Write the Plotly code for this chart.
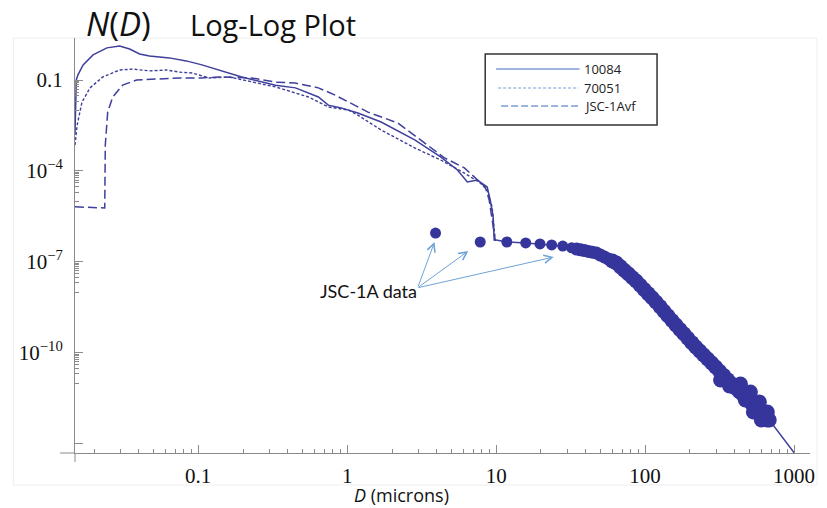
import numpy as np
import plotly.graph_objects as go

# ---- Model size distributions N(D), D in microns ----
d_10084 = [0.0149, 0.0152, 0.0156, 0.0169, 0.0197, 0.0244, 0.0297, 0.0347, 0.0404, 0.0471,
           0.0641, 0.0832, 0.106, 0.138, 0.196, 0.331, 0.45, 0.641, 0.747, 0.912,
           1.18, 1.69, 2.84, 4.24, 5.5, 6.41, 7.47, 8.71, 9.12, 9.55, 9.7, 10.0]
n_10084 = [1.6e-3, 0.1, 0.148, 0.316, 0.676, 1.15, 1.32, 1.05, 0.724, 0.617,
           0.537, 0.427, 0.316, 0.214, 0.126, 0.0676, 0.055, 0.0275, 0.0148, 0.012,
           0.0081, 0.0041, 1.05e-3, 2.9e-4, 1.07e-4, 4.3e-5, 5.0e-5, 2.95e-5, 1.1e-5, 3.0e-6, 5.2e-7, 5.2e-7]

d_70051 = [0.0149, 0.0154, 0.0166, 0.0188, 0.0229, 0.0297, 0.0363, 0.0471, 0.0612, 0.0747,
           0.0912, 0.118, 0.161, 0.229, 0.331, 0.55, 0.747, 1.02, 1.18, 1.69,
           2.84, 4.24, 6.12, 7.82, 8.71, 9.4, 9.7, 9.85, 10.0]
n_70051 = [7.1e-4, 3.2e-3, 0.0186, 0.055, 0.126, 0.214, 0.229, 0.2, 0.214, 0.182,
           0.17, 0.117, 0.126, 0.085, 0.059, 0.0275, 0.0129, 0.0102, 0.0069, 0.00224,
           5.75e-4, 2.29e-4, 8.5e-5, 3.98e-5, 2.34e-5, 6.5e-6, 8.9e-7, 5.2e-7, 5.2e-7]

d_jsc1avf = [0.0149, 0.0236, 0.0238, 0.0247, 0.0267, 0.0311, 0.0386, 0.0525, 0.0747, 0.106,
             0.138, 0.229, 0.331, 0.45, 0.641, 0.832, 1.13, 1.38, 2.19, 3.11,
             4.5, 6.12, 7.47, 8.45, 8.98, 9.4, 9.7, 9.85, 10.0]
n_jsc1avf = [6.5e-6, 6.0e-6, 7.1e-4, 8.7e-3, 0.0275, 0.0676, 0.1, 0.107, 0.117, 0.117,
             0.126, 0.117, 0.085, 0.079, 0.055, 0.0316, 0.0148, 0.0087, 0.0038, 1.05e-3,
             2.7e-4, 1.26e-4, 5.0e-5, 2.95e-5, 1.1e-5, 3.0e-6, 8.9e-7, 5.2e-7, 5.2e-7]

# ---- JSC-1A measured data ----
d_data = [3.92, 7.82, 11.8, 15.8, 19.7, 23.6, 28.0, 32.1, 34.7, 36.9,
          39.2, 41.7, 44.3, 47.1, 50.1, 53.3, 56.6, 60.3, 64.1, 68.1,
          72.4, 77.1, 81.9, 87.1, 92.7, 98.4, 104.7, 111.4, 118.3, 125.9,
          133.9, 142.2, 151.4, 161.1, 171.0, 182.0, 193.6, 205.6, 218.8, 232.8,
          247.2, 263.0, 279.9, 297.2, 316.2, 336.5, 357.3, 380.2, 404.6, 429.5,
          457.1, 486.4, 516.4, 549.5, 584.8, 620.9, 660.7,
          321.0, 369.0, 436.5, 471.0, 509.0, 533.0, 585.0, 603.0, 661.0, 681.0]
n_data = [8.9e-7, 4.5e-7, 4.5e-7, 4.2e-7, 3.9e-7, 3.6e-7, 3.3e-7, 2.9e-7, 2.64e-7, 2.49e-7,
          2.34e-7, 2.20e-7, 2.07e-7, 1.95e-7, 1.67e-7, 1.44e-7, 1.24e-7, 1.06e-7, 9.12e-8, 6.95e-8,
          5.28e-8, 4.02e-8, 3.05e-8, 2.32e-8, 1.69e-8, 1.23e-8, 8.91e-9, 6.49e-9, 4.71e-9, 3.32e-9,
          2.34e-9, 1.65e-9, 1.16e-9, 8.20e-10, 5.87e-10, 4.21e-10, 3.01e-10, 2.15e-10, 1.54e-10, 1.14e-10,
          8.39e-11, 6.19e-11, 4.57e-11, 3.37e-11, 2.45e-11, 1.78e-11, 1.29e-11, 9.42e-12, 6.84e-12, 5.13e-12,
          3.84e-12, 2.88e-12, 2.15e-12, 1.61e-12, 1.16e-12, 8.34e-13, 6.01e-13,
          1.26e-11, 7.96e-12, 9.27e-12, 2.75e-12, 5.05e-12, 1.10e-12, 2.36e-12, 6.01e-13, 1.10e-12, 6.01e-13]

# ends of the joined data curve
d_join = [10.0, 1000.0]
n_join = [5.2e-7, 5.0e-14]

x_ticks = [0.1, 1, 10, 100, 1000]
x_ticktext = ["0.1", "1", "10", "100", "1000"]
y_ticks = [1e-1, 1e-4, 1e-7, 1e-10, 1e-13]
y_ticktext = ["0.1", "10<sup>\u22124</sup>", "10<sup>\u22127</sup>", "10<sup>\u221210</sup>", ""]

LINE = "#3f3f9c"
DOT = "#35359c"
AXIS = "#8a8a8a"
LEG = "#7d9cd4"
ARROW = "#6fa3d8"
SANS = "Open Sans"
SERIF = "Liberation Serif"

# sorted data for the joined curve (D >= 10)
dd = np.array(d_data)
nn = np.array(n_data)
order = np.argsort(dd)
dd, nn = dd[order], nn[order]
mask = dd >= 10
line_d = [d_join[0]] + list(dd[mask]) + [d_join[1]]
line_n = [n_join[0]] + list(nn[mask]) + [n_join[1]]

# dots grow a little where the measurements crowd together
dot_size = [11 if d < 33 else (13 if d < 60 else 15) for d in d_data]

fig = go.Figure()
fig.add_trace(go.Scatter(x=d_10084, y=n_10084, mode="lines",
                         line=dict(color=LINE, width=1.5), name="10084"))
fig.add_trace(go.Scatter(x=d_70051, y=n_70051, mode="lines",
                         line=dict(color=LINE, width=1.4, dash="3px,2px"), name="70051"))
fig.add_trace(go.Scatter(x=d_jsc1avf, y=n_jsc1avf, mode="lines",
                         line=dict(color=LINE, width=1.5, dash="9px,4px"), name="JSC-1Avf"))
fig.add_trace(go.Scatter(x=line_d, y=line_n, mode="lines",
                         line=dict(color=LINE, width=1.5), name="JSC-1A"))
fig.add_trace(go.Scatter(x=d_data, y=n_data, mode="markers",
                         marker=dict(color=DOT, size=dot_size, opacity=1, line=dict(width=0)),
                         name="JSC-1A data"))

# minor tick positions
x_minor = [m * 10.0 ** k for k in range(-2, 3) for m in range(2, 10)]
y_minor = [m * 10.0 ** (k - 1) for k in (-1, -4, -7, -10) for m in range(1, 10)]

xmin, xmax = -1.8267, 3.1067
ymin, ymax = -13.31, 0.386

fig.update_xaxes(type="log", range=[xmin, xmax], showgrid=False, zeroline=False,
                 showline=True, linecolor=AXIS, linewidth=1,
                 ticks="inside", ticklen=8, tickcolor=AXIS, tickwidth=1,
                 tickvals=x_ticks, ticktext=x_ticktext, ticklabelstandoff=4,
                 tickfont=dict(family=SERIF, size=21, color="#111"),
                 minor=dict(tickvals=x_minor, ticks="inside", ticklen=4, tickcolor=AXIS, showgrid=False))
fig.update_yaxes(type="log", range=[ymin, ymax], showgrid=False, zeroline=False,
                 showline=True, linecolor=AXIS, linewidth=1,
                 ticks="inside", ticklen=8, tickcolor=AXIS, tickwidth=1,
                 tickvals=y_ticks, ticktext=y_ticktext, ticklabelstandoff=7,
                 tickfont=dict(family=SERIF, size=21, color="#111"),
                 minor=dict(tickvals=y_minor, ticks="inside", ticklen=4, tickcolor=AXIS, showgrid=False))

W, H = 827, 508
L, R, T, B = 75, 12, 38, 55
pw, ph = W - L - R, H - T - B


def px(x):
    return (x - L) / pw


def py(y):
    return (H - B - y) / ph


shapes = [
    # faint picture frame
    dict(type="rect", xref="paper", yref="paper", x0=px(13), x1=px(822), y0=py(485), y1=py(38),
         line=dict(color="#eeeeee", width=1), layer="below"),
    # axis overhangs
    dict(type="line", xref="paper", yref="paper", x0=px(60), x1=px(75), y0=0, y1=0,
         line=dict(color=AXIS, width=1)),
    dict(type="line", xref="paper", yref="paper", x0=0, x1=0, y0=py(453), y1=py(462),
         line=dict(color=AXIS, width=1)),
    # legend box
    dict(type="rect", xref="paper", yref="paper", x0=px(488), x1=px(661), y0=py(125), y1=py(54),
         line=dict(color="#333", width=1.5), fillcolor="white"),
    dict(type="line", xref="paper", yref="paper", x0=px(499), x1=px(583), y0=py(69), y1=py(69),
         line=dict(color=LEG, width=1.5)),
    dict(type="line", xref="paper", yref="paper", x0=px(501), x1=px(582), y0=py(88), y1=py(88),
         line=dict(color=LEG, width=1.2, dash="3px,2px")),
    dict(type="line", xref="paper", yref="paper", x0=px(504), x1=px(584), y0=py(106), y1=py(106),
         line=dict(color=LEG, width=1.4, dash="7px,3px")),
]

annotations = [
    dict(text="<i>N</i>(<i>D</i>)", xref="paper", yref="paper", x=px(84), y=py(23),
         xanchor="left", yanchor="middle", showarrow=False,
         font=dict(family=SANS, size=33, color="#111")),
    dict(text="Log-Log Plot", xref="paper", yref="paper", x=px(189), y=py(25),
         xanchor="left", yanchor="middle", showarrow=False,
         font=dict(family=SANS, size=29, color="#111")),
    dict(text="<i>D</i> (microns)", xref="paper", yref="paper", x=px(404), y=py(495),
         xanchor="center", yanchor="middle", showarrow=False,
         font=dict(family=SANS, size=18, color="#111")),
    dict(text="JSC-1A data", xref="paper", yref="paper", x=px(370), y=py(291),
         xanchor="center", yanchor="middle", showarrow=False,
         font=dict(family="Lato", size=18, color="#111")),
]
for name, ytxt in (("10084", 69), ("70051", 88), ("JSC-1Avf", 106)):
    annotations.append(dict(text=name, xref="paper", yref="paper", x=px(585), y=py(ytxt),
                            xanchor="left", yanchor="middle", showarrow=False,
                            font=dict(family=SANS, size=13, color="#222")))

tail = (420, 288)
for hx, hy in ((437, 242), (471, 251), (557, 257)):
    annotations.append(dict(text="", xref="paper", yref="paper", x=px(hx), y=py(hy),
                            ax=tail[0] - hx, ay=tail[1] - hy, showarrow=True,
                            arrowhead=5, arrowsize=1.6, arrowwidth=1, arrowcolor=ARROW))

fig.update_layout(width=W, height=H, margin=dict(l=L, r=R, t=T, b=B),
                  plot_bgcolor="white", paper_bgcolor="white", showlegend=False,
                  shapes=shapes, annotations=annotations)

fig.write_html("out.html")
